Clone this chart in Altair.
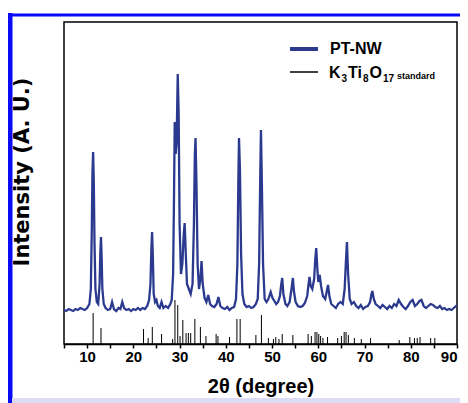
import altair as alt
import pandas as pd

# PT-NW measured pattern: (2theta, intensity in arbitrary units)
pt_nw = [
    (5.0, 34), (5.5, 33), (6.0, 35), (6.5, 34), (7.0, 33), (7.5, 35), (8.0, 34), (8.5, 36),
    (9.0, 35), (9.5, 34), (10.0, 36), (10.5, 40), (10.8, 55), (11.0, 110), (11.15, 170),
    (11.3, 192), (11.45, 160), (11.6, 100), (11.8, 55), (12.1, 42), (12.4, 40), (12.7, 60),
    (12.85, 90), (13.0, 107), (13.15, 85), (13.3, 55), (13.6, 40), (14.0, 36), (14.5, 34),
    (15.0, 35), (15.4, 42), (15.8, 35), (16.3, 33), (16.8, 36), (17.2, 35), (17.6, 42),
    (18.0, 36), (18.5, 34), (19.0, 35), (19.5, 33), (20.0, 35), (20.5, 34), (21.0, 36),
    (21.5, 34), (22.0, 36), (22.5, 35), (23.0, 38), (23.4, 44), (23.7, 60), (23.9, 95),
    (24.05, 112), (24.2, 90), (24.4, 50), (24.7, 42), (25.0, 44), (25.3, 38), (25.7, 36),
    (26.1, 42), (26.5, 36), (27.0, 38), (27.5, 36), (28.0, 40), (28.3, 44), (28.6, 70),
    (28.8, 150), (28.95, 222), (29.15, 190), (29.35, 200), (29.6, 270), (29.8, 230),
    (30.0, 120), (30.3, 70), (30.6, 80), (30.9, 110), (31.1, 121), (31.3, 95), (31.6, 60),
    (32.0, 55), (32.4, 50), (32.8, 60), (33.1, 120), (33.3, 190), (33.45, 206), (33.65, 160),
    (33.9, 80), (34.2, 55), (34.5, 65), (34.75, 83), (35.0, 60), (35.4, 46), (35.8, 42),
    (36.2, 49), (36.6, 40), (37.0, 38), (37.5, 37), (38.0, 40), (38.4, 47), (38.8, 38),
    (39.3, 36), (39.8, 35), (40.3, 37), (40.8, 34), (41.3, 36), (41.8, 37), (42.2, 45),
    (42.5, 80), (42.7, 160), (42.85, 206), (43.05, 175), (43.3, 90), (43.6, 50), (44.0, 40),
    (44.5, 37), (45.0, 38), (45.5, 36), (46.0, 37), (46.5, 40), (46.9, 45), (47.2, 80),
    (47.45, 170), (47.6, 214), (47.8, 160), (48.05, 80), (48.4, 45), (48.8, 42), (49.2, 45),
    (49.7, 52), (50.1, 46), (50.5, 43), (50.9, 40), (51.3, 42), (51.7, 48), (52.0, 60),
    (52.2, 66), (52.45, 50), (52.9, 40), (53.3, 38), (53.8, 42), (54.2, 55), (54.5, 66),
    (54.75, 52), (55.1, 42), (55.6, 38), (56.1, 37), (56.6, 38), (57.1, 41), (57.6, 48),
    (57.9, 60), (58.1, 67), (58.35, 58), (58.7, 55), (59.1, 65), (59.35, 85), (59.55, 96),
    (59.8, 75), (60.0, 62), (60.3, 69), (60.6, 58), (61.0, 48), (61.5, 45), (61.8, 52),
    (62.1, 59), (62.4, 48), (62.8, 40), (63.3, 38), (63.8, 36), (64.3, 40), (64.8, 42),
    (65.3, 40), (65.7, 55), (66.0, 85), (66.2, 102), (66.45, 70), (66.8, 45), (67.2, 40),
    (67.7, 42), (68.2, 38), (68.7, 36), (69.2, 39), (69.7, 35), (70.2, 37), (70.7, 38),
    (71.2, 42), (71.5, 50), (71.7, 53), (72.0, 45), (72.4, 40), (72.9, 38), (73.4, 36),
    (73.9, 39), (74.4, 37), (74.9, 35), (75.4, 38), (75.9, 36), (76.4, 40), (76.9, 38),
    (77.4, 44), (77.9, 40), (78.4, 37), (78.9, 35), (79.4, 38), (79.9, 42), (80.4, 44),
    (80.9, 38), (81.4, 40), (81.9, 43), (82.3, 44), (82.8, 38), (83.3, 36), (83.8, 38),
    (84.3, 40), (84.8, 39), (85.3, 37), (85.8, 36), (86.3, 38), (86.8, 35), (87.3, 36),
    (87.8, 34), (88.3, 35), (88.8, 34), (89.3, 36), (89.8, 38), (90.0, 37),
]

# K3Ti8O17 standard reflections: (2theta, relative intensity)
standard = [
    (11.3, 31), (13.0, 16), (22.2, 15), (23.2, 6), (24.1, 17), (26.1, 10), (28.5, 5),
    (29.0, 44), (29.6, 39), (30.1, 8), (30.7, 24), (31.4, 11), (31.9, 11), (32.4, 11),
    (33.3, 25), (34.5, 17), (35.7, 8), (37.9, 10), (38.3, 8), (40.8, 7), (42.4, 25),
    (43.1, 25), (46.5, 9), (47.7, 29), (49.2, 6), (50.3, 5), (50.8, 7), (51.5, 5),
    (52.2, 10), (54.5, 9), (57.8, 10), (58.5, 8), (59.3, 12), (59.7, 12), (60.1, 10),
    (60.5, 8), (61.0, 6), (62.0, 7), (64.2, 6), (65.0, 8), (65.6, 12), (66.0, 12),
    (66.5, 9), (67.8, 6), (69.3, 5), (71.3, 6), (77.5, 4), (79.8, 7), (80.8, 6),
    (81.4, 6), (82.0, 7), (84.3, 6), (85.2, 6),
]

x_ticks = list(range(5, 95, 5))

pat_df = pd.DataFrame(pt_nw, columns=["two_theta", "intensity"])
std_df = pd.DataFrame(standard, columns=["two_theta", "intensity"])

FONT = "Liberation Sans"
NAVY = "#2b3a8f"
BLUE = "#0a0af5"
W, H = 393, 322

x_axis = alt.Axis(
    values=x_ticks,
    labelExpr="datum.value % 10 === 0 ? datum.label : ''",
    title="2θ (degree)",
    titleFontSize=20, titleFont=FONT, titleFontWeight="bold", titleColor="black",
    titlePadding=12,
    labelFontSize=15, labelFont=FONT, labelFontWeight="bold", labelColor="black",
    labelPadding=1, labelFlush=True,
    tickSize=4, tickWidth=1.5, tickColor="black",
    domainColor="black", domainWidth=1.5, grid=False,
)
x_scale = alt.Scale(domain=[5, 90], nice=False)
y_scale = alt.Scale(domain=[0, H], nice=False)
y_axis = alt.Axis(title=None, labels=False, ticks=False, domain=False, grid=False)

curve = alt.Chart(pat_df).mark_line(color=NAVY, strokeWidth=2.3).encode(
    x=alt.X("two_theta:Q", scale=x_scale, axis=x_axis),
    y=alt.Y("intensity:Q", scale=y_scale, axis=y_axis),
)

sticks = alt.Chart(std_df).mark_rule(color="black", strokeWidth=1).encode(
    x=alt.X("two_theta:Q", scale=x_scale, axis=x_axis),
    y=alt.Y("intensity:Q", scale=y_scale, axis=y_axis),
    y2=alt.Y2(datum=0),
)

one = pd.DataFrame({"k": [0]})


def rule(x1, x2, y1, y2, color, width):
    return alt.Chart(one).mark_rule(color=color, strokeWidth=width).encode(
        x=alt.value(x1), x2=alt.value(x2), y=alt.value(y1), y2=alt.value(y2)
    )


def label(text, x, y, size, baseline="middle", font=FONT, angle=0, align="left"):
    return alt.Chart(one).mark_text(
        text=text, align=align, baseline=baseline, font=font, fontWeight="bold",
        fontSize=size, color="black", angle=angle,
    ).encode(x=alt.value(x), y=alt.value(y))


y_title = label("Intensity (A. U.)", -41, 150, 21, font="DejaVu Sans", angle=270,
                align="center")

legend = [
    rule(226, 254, 27, 27, NAVY, 4),
    label("PT-NW", 266, 27, 16),
    rule(226, 254, 50, 50, "black", 1.5),
    label("K", 265, 51, 16),
    label("3", 277.5, 57, 10),
    label("Ti", 284, 51, 16),
    label("8", 299, 57, 10),
    label("O", 305.5, 51, 16),
    label("17", 319, 57, 10),
    label("standard", 333, 54, 9),
]

frame = [
    rule(-56, 404, -7, -7, BLUE, 3),
    rule(-54, -54, -9, 381, BLUE, 5),
    rule(-52, 404, 378.5, 378.5, "#dcdcf6", 5),
]

chart = alt.layer(curve, sticks, y_title, *legend, *frame).properties(
    width=W, height=H,
    autosize=alt.AutoSizeParams(type="none"),
    padding={"left": 56, "top": 14, "right": 3, "bottom": 59},
    background="white",
).configure_view(stroke="black", strokeWidth=1.5)

chart.save("out.html", embed_options={"renderer": "svg", "actions": False})
